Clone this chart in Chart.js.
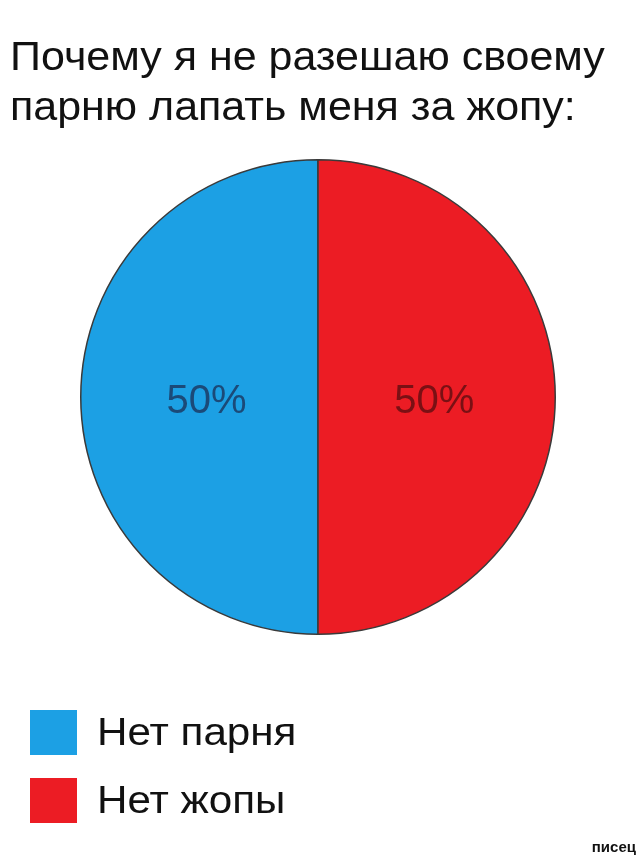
<!DOCTYPE html>
<html><head><meta charset="utf-8">
<script src="https://cdn.jsdelivr.net/npm/chart.js@4/dist/chart.umd.min.js"></script>
<style>
html,body{margin:0;padding:0;background:#fff;}
#wrap{position:relative;width:640px;height:861px;overflow:hidden;font-family:"Liberation Sans",Arial,sans-serif;}
#c{position:absolute;left:0;top:0;}
#title{position:absolute;left:10px;top:31px;font-size:40px;line-height:50px;color:#111;white-space:nowrap;transform:scaleX(1.075);transform-origin:0 0;}
.leg{position:absolute;left:30px;display:flex;align-items:center;font-size:38px;color:#111;}
.leg .sw{width:47px;height:45px;margin-right:20px;}
.leg span{display:inline-block;transform:scaleX(1.11);transform-origin:0 50%;white-space:nowrap;}
#wm{position:absolute;right:4px;bottom:6px;font-size:15px;font-weight:bold;color:#111;}
</style></head>
<body><div id="wrap">
<canvas id="c" width="640" height="861"></canvas>
<div id="title"></div>
<div id="legend"></div>
<div id="wm">писец</div>
</div>
<script>
const titleLines = ["Почему я не разешаю своему", "парню лапать меня за жопу:"];
const categories = ["Нет парня", "Нет жопы"];
const values = [50, 50];
const colors = ["#1CA0E4", "#EC1C24"];
const labelColors = ["#1B4A78", "#7A1014"];

document.getElementById('title').innerHTML = titleLines.join('<br>');
const legendEl = document.getElementById('legend');
categories.forEach((c, i) => {
  const d = document.createElement('div');
  d.className = 'leg';
  d.style.top = (710 + i * 68) + 'px';
  d.innerHTML = '<div class="sw" style="background:' + colors[i] + '"></div><span>' + c + '</span>';
  legendEl.appendChild(d);
});

const pctPlugin = {
  id: 'pct',
  afterDatasetsDraw(chart) {
    const ctx = chart.ctx;
    const meta = chart.getDatasetMeta(0);
    const total = values.reduce((a, b) => a + b, 0);
    ctx.save();
    ctx.font = '40px "Liberation Sans", Arial, sans-serif';
    ctx.textAlign = 'center';
    ctx.textBaseline = 'middle';
    meta.data.forEach((arc, i) => {
      const mid = (arc.startAngle + arc.endAngle) / 2;
      const r = arc.outerRadius * (i === 0 ? 0.47 : 0.49);
      const x = arc.x + Math.cos(mid) * r;
      const y = arc.y + Math.sin(mid) * r;
      ctx.fillStyle = labelColors[i];
      ctx.fillText(Math.round(values[i] / total * 100) + '%', x, y + 5);
    });
    ctx.restore();
  }
};

new Chart(document.getElementById('c'), {
  type: 'pie',
  data: {
    labels: categories,
    datasets: [{
      data: values,
      backgroundColor: colors,
      borderColor: '#3a3a3a',
      borderWidth: 1.5
    }]
  },
  options: {
    responsive: false,
    animation: false,
    rotation: 180,
    layout: { padding: { top: 158, bottom: 225, left: 80, right: 84 } },
    plugins: { legend: { display: false }, tooltip: { enabled: false }, title: { display: false } }
  },
  plugins: [pctPlugin]
});
</script>
</body></html>
